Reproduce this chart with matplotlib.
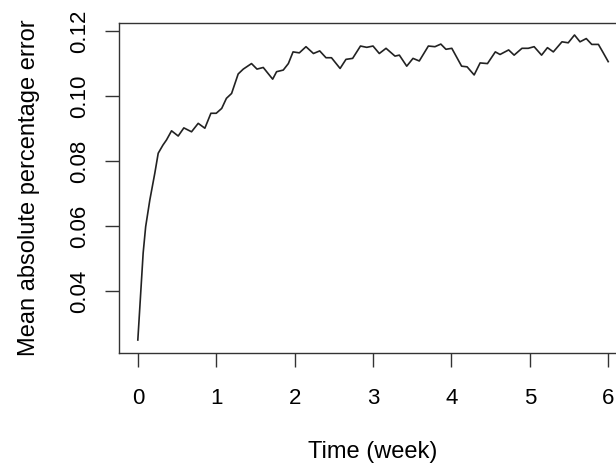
import numpy as np
import matplotlib
matplotlib.use('Agg')
import matplotlib.pyplot as plt

plt.rcParams['font.family'] = ['Liberation Sans', 'DejaVu Sans']

# values
week = [0.0, 0.068, 0.10, 0.153, 0.217, 0.26, 0.32, 0.366, 0.43, 0.515,
        0.587, 0.685, 0.77, 0.855, 0.932, 1.0, 1.07, 1.13, 1.196, 1.28,
        1.345, 1.45, 1.52, 1.60, 1.72, 1.77, 1.855, 1.92, 1.98, 2.06,
        2.145, 2.24, 2.32, 2.40, 2.47, 2.58, 2.655, 2.74, 2.84, 2.92,
        3.0, 3.08, 3.166, 3.28, 3.336, 3.43, 3.51, 3.59, 3.706, 3.79,
        3.865, 3.93, 4.005, 4.13, 4.20, 4.29, 4.366, 4.46, 4.56, 4.62,
        4.73, 4.80, 4.90, 4.98, 5.055, 5.15, 5.225, 5.30, 5.41, 5.49,
        5.57, 5.64, 5.72, 5.79, 5.875, 5.93, 6.0]
mape = [0.0249, 0.0517, 0.0598, 0.068, 0.0763, 0.0824, 0.0849, 0.0865, 0.0893, 0.0877,
        0.0902, 0.0890, 0.0916, 0.0901, 0.0947, 0.0947, 0.0962, 0.0993, 0.1008, 0.1068,
        0.1083, 0.1100, 0.1083, 0.1088, 0.1052, 0.1075, 0.1080, 0.1100, 0.1136, 0.1133,
        0.1152, 0.1131, 0.1139, 0.1118, 0.1118, 0.1085, 0.1113, 0.1116, 0.1154, 0.1150,
        0.1154, 0.1131, 0.1147, 0.1123, 0.1126, 0.1092, 0.1116, 0.1108, 0.1154, 0.1152,
        0.1160, 0.1144, 0.1147, 0.1092, 0.1090, 0.1065, 0.1102, 0.1100, 0.1136, 0.1128,
        0.1142, 0.1126, 0.1147, 0.1147, 0.1152, 0.1126, 0.1149, 0.1136, 0.1167, 0.1164,
        0.1188, 0.1167, 0.1177, 0.1159, 0.1159, 0.1136, 0.1106]

xticks = [0, 1, 2, 3, 4, 5, 6]
yticks = [0.04, 0.06, 0.08, 0.10, 0.12]

fig = plt.figure(figsize=(6.16, 4.66), dpi=100)
ax = fig.add_axes([0.1932, 0.2425, 0.8247, 0.7082])
ax.plot(week, mape, color='#222222', linewidth=1.2, solid_joinstyle='round')

ax.set_xlim(-0.24, 6.24)
ax.set_ylim(0.0209, 0.1225)
ax.set_xticks(xticks)
ax.set_xticklabels([str(t) for t in xticks])
ax.set_yticks(yticks)
ax.set_yticklabels(['%.2f' % t for t in yticks], rotation=90, va='center')

ax.tick_params(axis='both', direction='out', length=10, width=1, labelsize=16, color='#333333')
ax.tick_params(axis='x', pad=15)
ax.tick_params(axis='y', pad=11)
for s in ax.spines.values():
    s.set_linewidth(1)
    s.set_color('#333333')

ax.set_xlabel('Time (week)', fontsize=17, labelpad=23)
ax.set_ylabel('Mean absolute percentage error', fontsize=17, labelpad=21)

fig.savefig('out.png', dpi=100)
